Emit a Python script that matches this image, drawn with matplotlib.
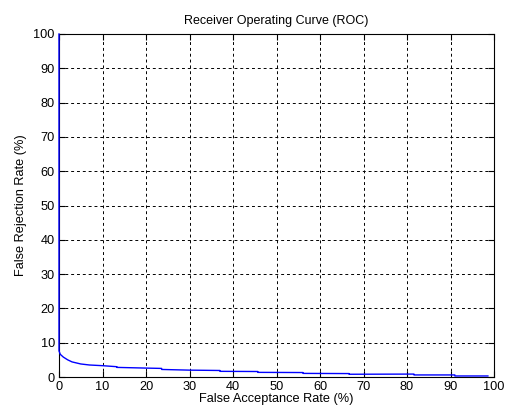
import matplotlib.pyplot as plt

# ROC curve values (percent)
far = [0, 0, 0.3, 1, 2, 3, 5, 7, 10, 13.3, 13.3, 20, 23.6, 23.6, 30, 37, 37,
       45.7, 45.7, 56.1, 56.1, 66.7, 66.7, 81.6, 81.6, 91, 91, 98.6]
frr = [100, 7.6, 6.6, 5.8, 5.0, 4.4, 3.8, 3.5, 3.3, 3.0, 2.8, 2.6, 2.5, 2.2, 2.0, 1.9, 1.65,
       1.6, 1.35, 1.3, 1.05, 1.0, 0.8, 0.85, 0.6, 0.6, 0.3, 0.3]

x_ticks = list(range(0, 101, 10))
y_ticks = list(range(0, 101, 10))

plt.rcParams['font.family'] = ['Liberation Sans', 'DejaVu Sans']
plt.rcParams['font.size'] = 9.2

fig = plt.figure(figsize=(5.05, 4.12), dpi=100)
ax = fig.add_axes([59 / 505, 35 / 412, 435 / 505, 343 / 412])

ax.plot(far, frr, color='#0000ff', linewidth=1.0, zorder=5, clip_on=False)

ax.set_xlim(0, 100)
ax.set_ylim(0, 100)
ax.set_xticks(x_ticks)
ax.set_yticks(y_ticks)
ax.grid(True, color='black', linestyle=(0, (3, 3)), linewidth=0.7)
ax.tick_params(direction='in', top=True, right=True, length=4, width=0.8, pad=3)
for s in ax.spines.values():
    s.set_linewidth(0.8)

ax.set_xlabel('False Acceptance Rate (%)', labelpad=0)
ax.set_ylabel('False Rejection Rate (%)', labelpad=5)
ax.set_title('Receiver Operating Curve (ROC)', fontsize=9, pad=7)

fig.savefig('out.png', dpi=100, facecolor='white')
